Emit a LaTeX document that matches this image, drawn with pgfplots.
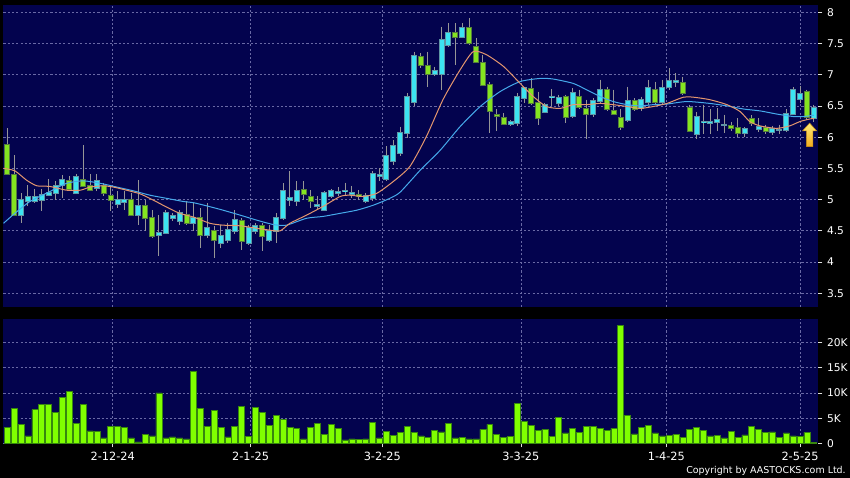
\documentclass[border=0pt]{standalone}
\usepackage{fontspec}
\setmainfont{DejaVu Sans}
\usepackage{pgfplots}
\pgfplotsset{compat=1.18}
\usepackage{pgfplotstable}

\definecolor{navy}{RGB}{3,3,78}
\definecolor{gridc}{RGB}{105,105,165}
\definecolor{upfill}{RGB}{60,228,242}
\definecolor{upedge}{RGB}{95,150,165}
\definecolor{dnfill}{RGB}{132,228,32}
\definecolor{dnedge}{RGB}{85,125,60}
\definecolor{wick}{RGB}{150,150,150}
\definecolor{maorange}{RGB}{228,150,110}
\definecolor{mablue}{RGB}{70,170,235}
\definecolor{volfill}{RGB}{128,255,0}
\definecolor{voledge}{RGB}{55,135,15}
\definecolor{arrtop}{RGB}{255,236,120}
\definecolor{arrbot}{RGB}{242,172,30}

% daily candles: index, open, high, low, close
\pgfplotstableread{
i o h l c
0 5.88 6.14 5.40 5.41
1 5.40 5.71 4.74 4.75
2 4.75 5.10 4.63 5.00
3 4.97 5.23 4.89 5.04
4 4.98 5.17 4.95 5.04
5 4.99 5.17 4.82 5.07
6 5.07 5.33 5.05 5.11
7 5.10 5.29 4.99 5.22
8 5.23 5.39 5.02 5.31
9 5.29 5.38 5.15 5.17
10 5.10 5.41 5.09 5.36
11 5.31 5.87 5.20 5.22
12 5.22 5.41 5.14 5.15
13 5.18 5.41 5.13 5.30
14 5.22 5.26 5.05 5.11
15 5.05 5.23 4.81 5.00
16 4.93 5.13 4.86 5.00
17 4.96 5.13 4.84 5.00
18 5.00 5.10 4.74 4.75
19 4.75 5.31 4.59 4.89
20 4.89 4.99 4.49 4.70
21 4.70 4.83 4.38 4.42
22 4.44 4.75 4.09 4.47
23 4.47 4.83 4.45 4.79
24 4.70 4.79 4.66 4.74
25 4.65 4.83 4.59 4.79
26 4.75 4.97 4.59 4.63
27 4.62 4.95 4.49 4.70
28 4.70 4.86 4.22 4.43
29 4.43 4.94 4.39 4.55
30 4.49 4.57 4.06 4.35
31 4.30 4.59 4.22 4.42
32 4.35 4.62 4.30 4.51
33 4.49 4.83 4.45 4.68
34 4.65 4.70 4.19 4.33
35 4.30 4.60 4.28 4.54
36 4.50 4.62 4.45 4.57
37 4.57 4.62 4.17 4.42
38 4.35 4.59 4.32 4.49
39 4.50 4.78 4.30 4.70
40 4.70 5.26 4.68 5.13
41 5.00 5.45 4.89 5.03
42 4.97 5.29 4.89 5.14
43 5.15 5.29 5.00 5.09
44 5.04 5.15 4.87 4.97
45 4.90 5.05 4.83 4.91
46 4.84 5.13 4.83 5.10
47 5.06 5.17 5.02 5.13
48 5.11 5.20 5.05 5.12
49 5.13 5.27 5.05 5.14
50 5.09 5.22 5.03 5.10
51 5.07 5.15 5.00 5.06
52 4.98 5.10 4.95 5.05
53 5.02 5.45 4.97 5.41
54 5.37 5.50 5.29 5.40
55 5.33 5.85 5.30 5.69
56 5.61 5.95 5.55 5.86
57 5.75 6.17 5.70 6.07
58 6.07 6.70 5.98 6.64
59 6.56 7.37 6.50 7.30
60 7.29 7.35 7.10 7.16
61 7.14 7.37 6.81 7.01
62 7.01 7.13 6.98 7.06
63 7.01 7.77 6.76 7.55
64 7.48 7.82 7.45 7.66
65 7.66 7.82 7.16 7.61
66 7.61 7.82 7.58 7.74
67 7.74 7.90 7.48 7.50
68 7.45 7.58 7.18 7.20
69 7.19 7.32 6.82 6.84
70 6.84 6.89 6.07 6.42
71 6.35 6.45 6.10 6.34
72 6.30 6.38 6.19 6.21
73 6.21 6.27 6.18 6.25
74 6.22 6.70 6.18 6.65
75 6.62 6.80 6.55 6.78
76 6.77 6.94 6.52 6.54
77 6.54 6.73 6.20 6.30
78 6.41 6.55 6.38 6.52
79 6.64 6.77 6.50 6.65
80 6.55 6.68 6.50 6.62
81 6.65 6.68 6.22 6.33
82 6.34 6.78 6.30 6.70
83 6.65 6.76 6.45 6.49
84 6.45 6.60 5.97 6.37
85 6.37 6.62 6.32 6.58
86 6.58 6.92 6.55 6.76
87 6.76 6.81 6.42 6.45
88 6.42 6.76 6.35 6.37
89 6.31 6.45 6.12 6.16
90 6.28 6.81 6.25 6.58
91 6.58 6.62 6.42 6.45
92 6.46 6.65 6.42 6.60
93 6.57 6.92 6.52 6.78
94 6.76 6.89 6.52 6.56
95 6.56 6.92 6.52 6.79
96 6.80 7.10 6.76 6.90
97 6.88 7.02 6.80 6.90
98 6.87 6.97 6.68 6.70
99 6.46 6.52 6.08 6.10
100 6.05 6.40 5.97 6.33
101 6.24 6.52 6.05 6.25
102 6.22 6.45 6.05 6.25
103 6.24 6.46 6.10 6.28
104 6.20 6.36 6.06 6.20
105 6.18 6.25 6.10 6.14
106 6.14 6.30 6.00 6.06
107 6.06 6.16 6.00 6.13
108 6.29 6.35 6.18 6.22
109 6.13 6.30 6.08 6.16
110 6.14 6.20 6.05 6.10
111 6.09 6.18 6.04 6.13
112 6.11 6.20 6.05 6.11
113 6.11 6.45 6.08 6.37
114 6.37 6.80 6.35 6.76
115 6.61 6.82 6.55 6.69
116 6.73 6.76 6.28 6.32
117 6.30 6.52 6.25 6.47
}\candles

% short moving average (orange)
\pgfplotstableread{
i v
-0.55 5.50
1.1 5.46
2.8 5.31
4.3 5.22
6.2 5.21
8.6 5.15
10.6 5.15
12.0 5.20
13.9 5.22
15.4 5.20
17.3 5.15
19.3 5.09
21.2 4.99
23.1 4.88
25.0 4.78
27.0 4.72
29.4 4.62
31.3 4.59
33.8 4.58
36.2 4.54
38.1 4.51
39.6 4.50
41.0 4.62
43.4 4.75
45.8 4.89
48.3 5.05
49.7 5.07
51.6 5.05
53.6 5.10
56.0 5.29
58.4 5.53
60.8 6.01
63.2 6.60
65.7 7.08
67.6 7.37
69.5 7.32
72.0 7.13
74.4 6.86
76.3 6.65
78.2 6.49
80.2 6.46
82.1 6.52
84.0 6.52
86.0 6.54
87.9 6.52
89.9 6.49
91.8 6.46
93.7 6.49
95.7 6.54
98.1 6.64
99.5 6.64
101.9 6.60
104.4 6.52
106.3 6.41
107.7 6.25
109.2 6.18
111.6 6.14
113.5 6.18
115.0 6.25
116.4 6.29
117.0 6.30
}\maone

% long moving average (blue)
\pgfplotstableread{
i v
-0.55 4.62
1.1 4.78
3.3 4.97
6.2 5.13
8.6 5.26
11.0 5.30
13.5 5.26
15.9 5.20
18.3 5.14
20.7 5.07
23.1 5.02
25.5 4.97
27.0 4.95
28.9 4.90
31.3 4.83
33.8 4.75
36.2 4.67
38.6 4.60
40.5 4.59
43.4 4.70
45.8 4.73
48.3 4.78
50.7 4.83
53.1 4.91
55.5 5.02
57.0 5.12
59.9 5.47
62.8 5.79
65.7 6.17
68.6 6.49
71.5 6.73
74.4 6.89
77.3 6.94
79.2 6.93
82.1 6.86
84.0 6.76
86.0 6.65
87.9 6.57
89.9 6.52
91.8 6.50
93.7 6.52
95.7 6.53
98.6 6.57
101.9 6.54
104.4 6.50
106.8 6.45
109.2 6.42
111.6 6.37
114.0 6.33
115.5 6.33
117.0 6.35
}\matwo

% volume in thousands
\pgfplotstableread{
i v
0 3.2
1 6.9
2 3.7
3 1.5
4 6.7
5 7.7
6 7.7
7 6.2
8 9.2
9 10.3
10 3.9
11 7.7
12 2.5
13 2.4
14 1.1
15 3.3
16 3.3
17 3.2
18 1.1
19 0.3
20 1.8
21 1.5
22 10.0
23 1.1
24 1.3
25 1.1
26 0.9
27 14.2
28 6.9
29 3.4
30 6.5
31 3.2
32 1.3
33 3.4
34 7.3
35 1.4
36 7.1
37 6.1
38 3.6
39 5.6
40 4.8
41 3.1
42 2.9
43 0.9
44 3.2
45 4.0
46 1.8
47 3.8
48 2.9
49 0.7
50 0.9
51 0.8
52 0.9
53 4.2
54 1.1
55 2.4
56 1.6
57 2.2
58 3.4
59 2.2
60 1.5
61 1.2
62 2.6
63 2.3
64 3.9
65 1.1
66 1.2
67 0.9
68 0.9
69 2.8
70 3.8
71 1.8
72 1.2
73 1.4
74 7.9
75 4.4
76 3.6
77 2.6
78 2.8
79 1.4
80 5.2
81 2.1
82 2.9
83 2.2
84 3.4
85 3.3
86 3.0
87 2.6
88 3.0
89 23.4
90 5.5
91 1.9
92 3.1
93 3.5
94 2.1
95 1.5
96 1.6
97 1.8
98 1.25
99 2.8
100 3.2
101 2.6
102 1.5
103 1.6
104 1.1
105 2.4
106 1.25
107 1.7
108 3.4
109 2.8
110 2.2
111 2.3
112 1.2
113 2.1
114 1.5
115 1.4
116 2.2
117 0.15
}\vol

\pgfplotsset{
  panel/.style={
    scale only axis,
    width=611.1pt,
    xmin=-0.55, xmax=117.65,
    axis background/.style={fill=navy},
    axis line style={draw=none},
    xtick={15.3,35.3,54.4,74.5,95.6,115.0},
    ytick pos=right, yticklabel pos=right,
    tick align=outside,
    major tick length=3pt,
    tick style={color=white!75!gray, line width=0.5pt},
    grid=major,
    major grid style={gridc, dash pattern=on 1.6pt off 1.6pt, line width=0.45pt},
    ticklabel style={text=white},
    /pgf/number format/assume math mode=true,
  },
  candle/.style={draw=none, mark=none, forget plot,
    error bars/.cd, y dir=minus, y explicit, error mark=none},
}

\begin{document}
\begin{tikzpicture}
\useasboundingbox (0,0) rectangle (637.5pt,358.5pt);
\fill[black] (0,0) rectangle (637.5pt,358.5pt);

% price panel
\begin{axis}[panel,
  at={(2.625pt,128.5pt)}, anchor=south west,
  height=226.3pt,
  ymin=3.285, ymax=8.117,
  ytick={3.5,4,4.5,5,5.5,6,6.5,7,7.5,8},
  xticklabels={},
  major x tick style={draw=none},
  yticklabel style={font=\fontsize{8}{9}\selectfont},
]
% wicks
\addplot[candle, error bar style={draw=wick, line width=0.75pt}]
  table[x=i, y=h, y error expr={\thisrow{h}-\thisrow{l}}] {\candles};
% rising candles
\addplot[candle, error bar style={draw=upedge, line width=4.5pt}]
  table[x=i, y expr={\thisrow{c}>=\thisrow{o} ? \thisrow{c}+0.016 : nan},
        y error expr={\thisrow{c}-\thisrow{o}+0.032}] {\candles};
\addplot[candle, error bar style={draw=upfill, line width=3.0pt}]
  table[x=i, y expr={\thisrow{c}>=\thisrow{o} ? \thisrow{c} : nan},
        y error expr={\thisrow{c}-\thisrow{o}}] {\candles};
% falling candles
\addplot[candle, error bar style={draw=dnedge, line width=4.5pt}]
  table[x=i, y expr={\thisrow{c}<\thisrow{o} ? \thisrow{o}+0.016 : nan},
        y error expr={\thisrow{o}-\thisrow{c}+0.032}] {\candles};
\addplot[candle, error bar style={draw=dnfill, line width=3.0pt}]
  table[x=i, y expr={\thisrow{c}<\thisrow{o} ? \thisrow{o} : nan},
        y error expr={\thisrow{o}-\thisrow{c}}] {\candles};
% moving averages
\addplot[mablue, line width=0.75pt, mark=none, smooth, tension=0.4, forget plot] table[x=i, y=v] {\matwo};
\addplot[maorange, line width=0.75pt, mark=none, smooth, tension=0.4, forget plot] table[x=i, y=v] {\maone};
% marker arrow
\addplot[draw=arrbot!80!black, line width=0.4pt, top color=arrtop, bottom color=arrbot, forget plot]
  coordinates {(115.91,5.85) (116.87,5.85) (116.87,6.10) (117.41,6.10) (116.39,6.225) (115.37,6.10) (115.91,6.10) (115.91,5.85)};
\end{axis}

% volume panel
\begin{axis}[panel,
  at={(2.625pt,25.9pt)}, anchor=south west,
  height=93.15pt,
  ymin=0, ymax=24.6,
  ytick={0,5,10,15,20},
  yticklabels={0,5K,10K,15K,20K},
  xticklabels={2-12-24,2-1-25,3-2-25,3-3-25,1-4-25,2-5-25},
  xtick pos=bottom,
  yticklabel style={font=\fontsize{8}{9}\selectfont},
  xticklabel style={font=\fontsize{8.5}{9}\selectfont},
]
\addplot[ybar, bar width=0.87, bar shift=0pt, fill=volfill, draw=voledge, line width=0.5pt, forget plot]
  table[x=i, y=v] {\vol};
\end{axis}

\node[anchor=east, text=white, font=\fontsize{7.1}{8}\selectfont, inner sep=0pt] at (634.5pt,5.3pt) {Copyright by AASTOCKS.com Ltd.};
\end{tikzpicture}
\end{document}
